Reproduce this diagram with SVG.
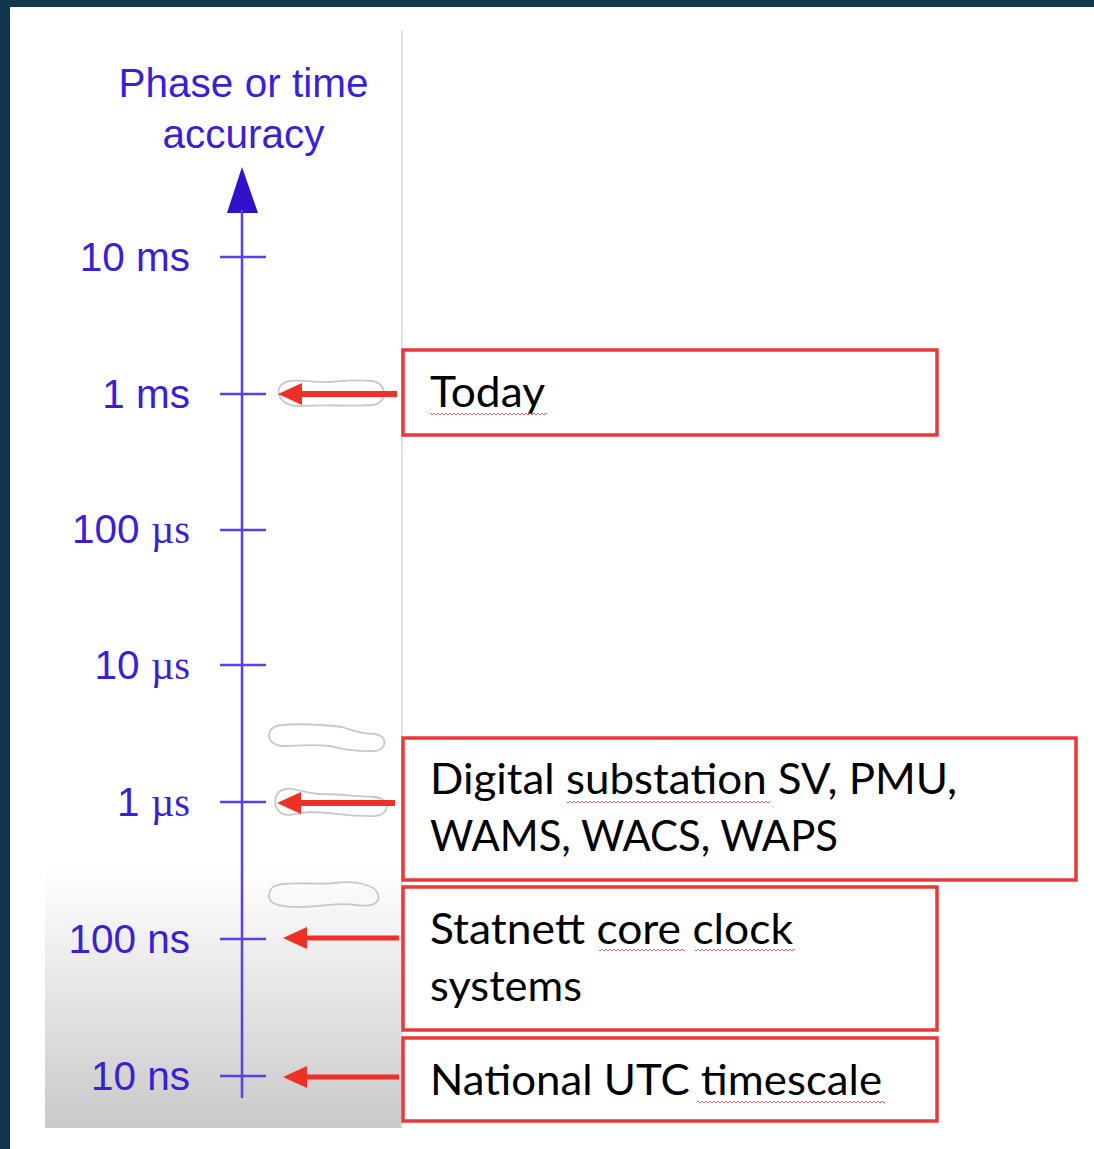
<svg xmlns="http://www.w3.org/2000/svg" width="1094" height="1149" viewBox="0 0 1094 1149">
<style>
.ax{font-family:"Liberation Sans",Arial,sans-serif;font-size:40.5px;fill:#3a1fd6}
.mu{font-family:"Liberation Serif","Times New Roman",serif}
.tick{stroke:#5a3ff0;stroke-width:2.5}
.box{fill:#fff;stroke:#e8383a;stroke-width:3.5}
.bt{font-family:Lato,"Open Sans",sans-serif;font-size:42px;fill:#000}
.arr{stroke:#ee3026;fill:none}
.pill{fill:none;stroke:#c8c8c8;stroke-width:1.8}
</style>
<defs>
<linearGradient id="g" x1="0" y1="0" x2="0" y2="1">
<stop offset="0" stop-color="#ffffff"/>
<stop offset="1" stop-color="#c9c9c9"/>
</linearGradient>
<pattern id="sq" width="4" height="4" patternUnits="userSpaceOnUse">
<path d="M0,3 L2,1 L4,3" fill="none" stroke="#e85050" stroke-width="0.9"/>
</pattern>
<marker id="ah" markerUnits="userSpaceOnUse" markerWidth="26" markerHeight="26" refX="0" refY="12" orient="auto" overflow="visible">
<path d="M0,1 L24,12 L0,23 Z" fill="#ee3026"/>
</marker>
</defs>
<rect width="1094" height="1149" fill="#fff"/>
<rect x="0" y="0" width="1094" height="7" fill="#12364b"/>
<rect x="0" y="0" width="10" height="1149" fill="#12364b"/>
<rect x="45" y="868" width="357" height="260" fill="url(#g)"/>
<line x1="402" y1="30" x2="402" y2="1128" stroke="#e2e2e2" stroke-width="2"/>

<g id="axis">
<text class="ax" x="243.5" y="97" text-anchor="middle" font-size="42">Phase or time</text>
<text class="ax" x="243.5" y="148" text-anchor="middle" font-size="42">accuracy</text>
<path d="M242,167 L258,213 L227,213 Z" fill="#3210c8"/>
<line x1="242" y1="210" x2="242" y2="1098" stroke="#5a3ff0" stroke-width="2.5"/>
<line class="tick" x1="220" y1="257" x2="266" y2="257"/>
<line class="tick" x1="220" y1="394" x2="266" y2="394"/>
<line class="tick" x1="220" y1="530" x2="266" y2="530"/>
<line class="tick" x1="220" y1="665" x2="266" y2="665"/>
<line class="tick" x1="220" y1="802" x2="266" y2="802"/>
<line class="tick" x1="220" y1="939" x2="266" y2="939"/>
<line class="tick" x1="220" y1="1076" x2="266" y2="1076"/>
<text class="ax" x="190" y="271" text-anchor="end">10 ms</text>
<text class="ax" x="190" y="408" text-anchor="end">1 ms</text>
<text class="ax" x="190" y="543" text-anchor="end">100 <tspan class="mu">µs</tspan></text>
<text class="ax" x="190" y="679" text-anchor="end">10 <tspan class="mu">µs</tspan></text>
<text class="ax" x="190" y="816" text-anchor="end">1 <tspan class="mu">µs</tspan></text>
<text class="ax" x="190" y="953" text-anchor="end">100 ns</text>
<text class="ax" x="190" y="1090" text-anchor="end">10 ns</text>
</g>

<g id="highlights">
<path class="pill" d="M290,381 C300,379 312,383 330,382 C345,381 352,379 372,381 C388,383 388,404 372,405 C350,407 330,404 300,406 C278,408 270,384 290,381 Z"/>
<path class="pill" d="M282,725 C305,723 325,725 342,727 C352,730 358,734 375,734 C389,736 387,751 373,751 C350,752 340,748 330,746 C310,744 295,746 282,746 C264,744 265,726 282,725 Z"/>
<path class="pill" d="M285,789 C295,787 300,793 320,794 C340,794 350,796 375,797 C391,799 390,815 375,816 C350,817 330,812 310,812 C295,813 285,819 278,810 C272,802 276,791 285,789 Z"/>
<path class="pill" d="M283,884 C300,882 320,885 335,883 C355,880 375,885 378,894 C381,905 370,907 355,905 C340,902 320,907 300,907 C285,907 268,906 269,895 C270,887 275,885 283,884 Z"/>
</g>

<g id="connectors">
<line class="arr" x1="397" y1="394" x2="302" y2="394" stroke-width="6" marker-end="url(#ah)"/>
<line class="arr" x1="395" y1="803" x2="301" y2="803" stroke-width="6" marker-end="url(#ah)"/>
<line class="arr" x1="399" y1="938" x2="307" y2="938" stroke-width="5" marker-end="url(#ah)"/>
<line class="arr" x1="399" y1="1077" x2="307" y2="1077" stroke-width="5" marker-end="url(#ah)"/>
</g>

<g id="today">
<rect class="box" x="403" y="350" width="534" height="85"/>
<text class="bt" x="430" y="407" textLength="115" lengthAdjust="spacingAndGlyphs">Today</text>
<rect x="430" y="412" width="117" height="4" fill="url(#sq)"/>
</g>

<g id="digital">
<rect class="box" x="403" y="738" width="673" height="142"/>
<text class="bt" x="430" y="794" textLength="527" lengthAdjust="spacingAndGlyphs">Digital substation SV, PMU,</text>
<text class="bt" x="430" y="851" textLength="408" lengthAdjust="spacingAndGlyphs">WAMS, WACS, WAPS</text>
<rect x="567" y="800" width="203" height="4" fill="url(#sq)"/>
</g>

<g id="statnett">
<rect class="box" x="403" y="887" width="534" height="143"/>
<text class="bt" x="430" y="944" textLength="363" lengthAdjust="spacingAndGlyphs">Statnett core clock</text>
<text class="bt" x="430" y="1001" textLength="152" lengthAdjust="spacingAndGlyphs">systems</text>
<rect x="599" y="948" width="86" height="4" fill="url(#sq)"/>
<rect x="695" y="948" width="100" height="4" fill="url(#sq)"/>
</g>

<g id="national">
<rect class="box" x="403" y="1038" width="534" height="83"/>
<text class="bt" x="430" y="1095" textLength="452" lengthAdjust="spacingAndGlyphs">National UTC timescale</text>
<rect x="697" y="1100" width="188" height="4" fill="url(#sq)"/>
</g>
</svg>
